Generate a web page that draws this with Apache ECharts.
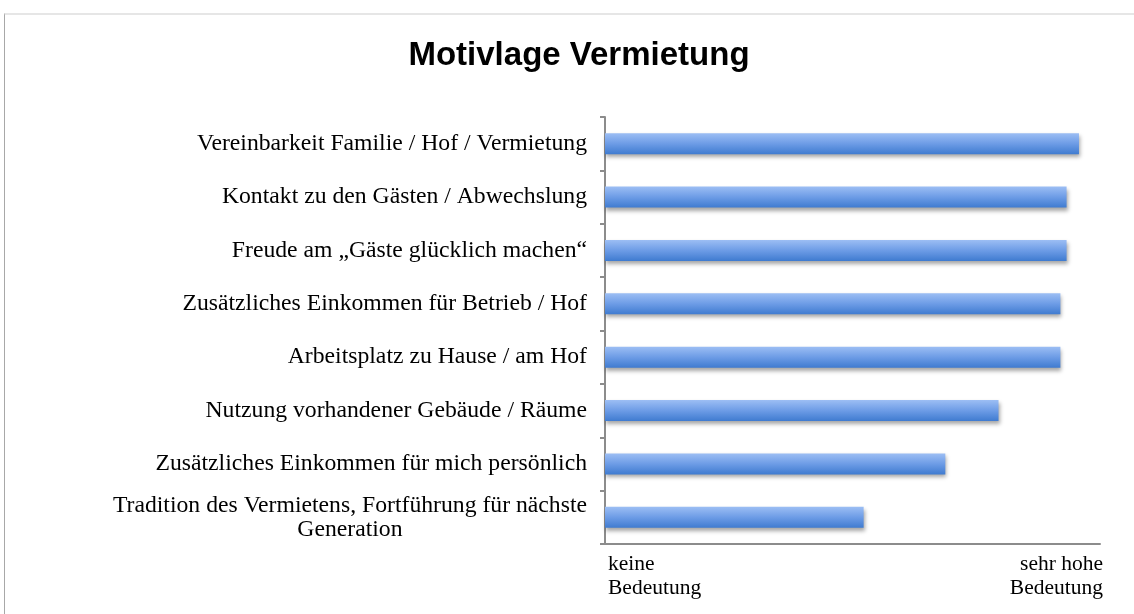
<!DOCTYPE html>
<html>
<head>
<meta charset="utf-8">
<script src="https://cdn.jsdelivr.net/npm/echarts@6/dist/echarts.min.js"></script>
<style>
html,body{margin:0;padding:0;background:#fff;}
#frame{position:absolute;left:4px;top:13px;width:1130px;height:601px;border-top:2px solid #e6e6e6;border-left:1px solid #a8a8a8;box-sizing:border-box;}
#chart{position:absolute;left:0;top:0;width:1134px;height:614px;}
</style>
</head>
<body>
<div id="frame"></div>
<div id="chart"></div>
<script>
var titleText = 'Motivlage Vermietung';
var categories = [
  'Vereinbarkeit Familie / Hof / Vermietung',
  'Kontakt zu den Gästen / Abwechslung',
  'Freude am „Gäste glücklich machen“',
  'Zusätzliches Einkommen für Betrieb / Hof',
  'Arbeitsplatz zu Hause / am Hof',
  'Nutzung vorhandener Gebäude / Räume',
  'Zusätzliches Einkommen für mich persönlich',
  'Tradition des Vermietens, Fortführung für nächste\nGeneration'
];
var values = [3.83, 3.73, 3.73, 3.68, 3.68, 3.18, 2.75, 2.09];
var scaleMin = 0;
var scaleMax = 4;
var scaleLabels = ['keine\nBedeutung', 'sehr hohe\nBedeutung'];

var chart = echarts.init(document.getElementById('chart'), null, {renderer: 'canvas'});
var serif = '"Liberation Serif", "DejaVu Serif", serif';
chart.setOption({
  backgroundColor: 'transparent',
  animation: false,
  title: {
    text: titleText,
    left: 574,
    textAlign: 'center',
    top: 34,
    textStyle: {fontFamily: '"Liberation Sans", Arial, sans-serif', fontWeight: 'bold', fontSize: 33, color: '#000'}
  },
  grid: {left: 605, right: 34, top: 117, bottom: 70, containLabel: false},
  xAxis: {
    type: 'value',
    min: scaleMin,
    max: scaleMax,
    interval: scaleMax - scaleMin,
    axisLine: {show: true, lineStyle: {color: '#8c8c8c', width: 2}},
    axisTick: {show: false},
    splitLine: {show: false},
    axisLabel: {
      margin: 8,
      fontFamily: serif,
      fontSize: 21.5,
      lineHeight: 24,
      color: '#000',
      padding: [0, -3, 0, 3],
      alignMinLabel: 'left',
      alignMaxLabel: 'right',
      formatter: function (v) { return v === scaleMin ? scaleLabels[0] : scaleLabels[1]; }
    }
  },
  yAxis: {
    type: 'category',
    inverse: true,
    data: categories,
    axisLine: {show: true, lineStyle: {color: '#8c8c8c', width: 2}},
    axisTick: {show: true, length: 5, lineStyle: {color: '#8c8c8c', width: 2}},
    axisLabel: {
      margin: 18,
      fontFamily: serif,
      fontSize: 23.7,
      lineHeight: 24,
      color: '#000',
      formatter: function (v) {
        if (v.indexOf('\n') >= 0) {
          return v.split('\n').map(function (s) { return '{c|' + s + '}'; }).join('\n');
        }
        return v;
      },
      rich: {
        c: {align: 'center', fontFamily: serif, fontSize: 23.7, lineHeight: 24, color: '#000'}
      }
    }
  },
  series: [{
    type: 'bar',
    data: values,
    barWidth: 21,
    itemStyle: {
      color: new echarts.graphic.LinearGradient(0, 0, 0, 1, [
        {offset: 0, color: '#9cbef4'},
        {offset: 0.5, color: '#6d9ce6'},
        {offset: 1, color: '#3f7bd0'}
      ]),
      shadowColor: 'rgba(0,0,0,0.35)',
      shadowBlur: 4,
      shadowOffsetX: 1,
      shadowOffsetY: 3
    }
  }]
});
</script>
</body>
</html>
